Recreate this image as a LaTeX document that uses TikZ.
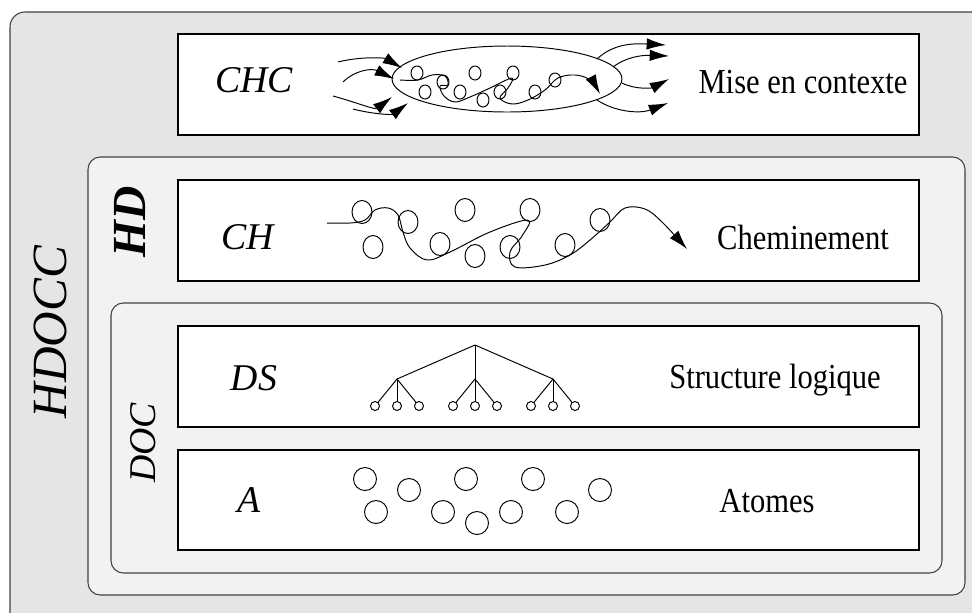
\documentclass[tikz,border=0pt]{standalone}
\usepackage{fontspec}
\setmainfont{Liberation Serif}
\usetikzlibrary{arrows.meta}
\newcommand{\sq}[1]{\scalebox{0.87}[1]{#1}}

\begin{document}
\begin{tikzpicture}[x=0.2mm, y=0.2mm, line width=0.55pt]
\tikzset{
  panel/.style={draw=black!75, line width=0.6pt},
  layer/.style={draw=black, fill=white, line width=0.6pt},
  lab/.style={font=\fontsize{21.5}{25}\selectfont\itshape},
  txt/.style={font=\fontsize{20}{24}\selectfont},
  tip/.style={-{Latex[length=11pt,width=6.5pt]}},
}
\clip (0,0) rectangle (972,-612);
% grouped panels
\draw [panel, fill=black!10, rounded corners=8.5pt] (10,-12) rectangle (990,-630);
\draw [panel, fill=black!5, rounded corners=7pt] (88,-157) rectangle (965,-595);
\draw [panel, fill=black!5, rounded corners=7pt] (111,-303) rectangle (942,-573);
\node [font=\fontsize{28}{32}\selectfont\itshape, rotate=90] (hdocc) at (50,-332) {HDOCC};
\node [font=\fontsize{27}{32}\selectfont\bfseries\itshape, rotate=90] (hd) at (130,-222) {HD};
\node [font=\fontsize{21.5}{25}\selectfont\itshape, rotate=90] (doc) at (143,-443) {DOC};
% layers
\draw [layer] (178,-34) rectangle (919,-135);
\draw [layer] (178,-180) rectangle (919,-281);
\draw [layer] (178,-326) rectangle (919,-427);
\draw [layer] (178,-450) rectangle (919,-550);
\node [lab] (chc) at (254,-80) {CHC};
\node [lab] (ch) at (248,-237) {CH};
\node [lab] (ds) at (254,-378) {DS};
\node [lab] (a) at (249,-500) {A};
\node [txt] (mise) at (803,-82) {\sq{Mise en contexte}};
\node [txt] (chem) at (803,-237) {\sq{Cheminement}};
\node [txt] (struct) at (775,-380) {\sq{Structure logique}};
\node [txt] (atomes) at (767,-501) {\sq{Atomes}};
% context
\draw (507,-79) ellipse (115 and 33);
\foreach \x/\y in {417/73, 443/82, 425/92, 475/73, 460/92, 483/100, 513/73, 500/92, 535/92, 555/80}
  \draw (\x,-\y) ellipse (6 and 7);
\draw [tip] plot [smooth, tension=0.6] coordinates {(400,-80) (418,-80) (432,-75) (445,-76) (448,-85) (440,-86) (444,-96) (455,-102) (470,-97) (490,-88) (512,-78) (508,-88) (500,-98) (512,-104) (528,-100) (545,-90) (558,-78) (575,-75) (590,-80) (600,-94)};
\draw [tip] (338,-62) .. controls (362,-56) and (385,-58) .. (402,-68);
\draw [tip] (343,-82) .. controls (355,-70) and (372,-68) .. (394,-79);
\draw [tip] (333,-96) .. controls (355,-102) and (375,-110) .. (392,-97);
\draw [tip] (353,-109) .. controls (372,-114) and (392,-115) .. (408,-103);
\draw [tip] (597,-59) .. controls (612,-45) and (630,-43) .. (666,-45);
\draw [tip] (613,-67) .. controls (626,-57) and (642,-55) .. (669,-56);
\draw [tip] (622,-83) .. controls (636,-90) and (652,-88) .. (669,-79);
\draw [tip] (597,-100) .. controls (615,-112) and (640,-114) .. (668,-103);
% path
\foreach \x/\y in {362/212, 373/247, 408/222, 440/244, 465/210, 475/256, 530/210, 510/247, 565/245, 600/220}
  \draw (\x,-\y) ellipse (10 and 11.5);
\draw [tip] plot [smooth, tension=0.6] coordinates {(327,-223) (350,-223) (365,-220) (375,-210) (388,-208) (398,-215) (403,-232) (410,-248) (427,-260) (450,-252) (490,-232) (528,-220) (522,-236) (510,-252) (515,-267) (545,-265) (570,-255) (590,-240) (610,-222) (625,-208) (645,-209) (662,-222) (687,-249)};
% tree
\coordinate (root) at (475,-345);
\foreach \m in {397,475,553} {
  \draw (root) -- (\m,-379);
  \foreach \d in {-22,0,22}
    \draw (\m,-379) -- (\m+\d,-406);
  \foreach \d in {-22,0,22}
    \draw [fill=white] (\m+\d,-406) circle (4.5);
}
% atoms
\foreach \x/\y in {365/479, 409/490, 466/479, 533/479, 600/490, 376/512, 443/512, 477/523, 511/512, 567/512}
  \draw (\x,-\y) circle (11.5);
\end{tikzpicture}
\end{document}
